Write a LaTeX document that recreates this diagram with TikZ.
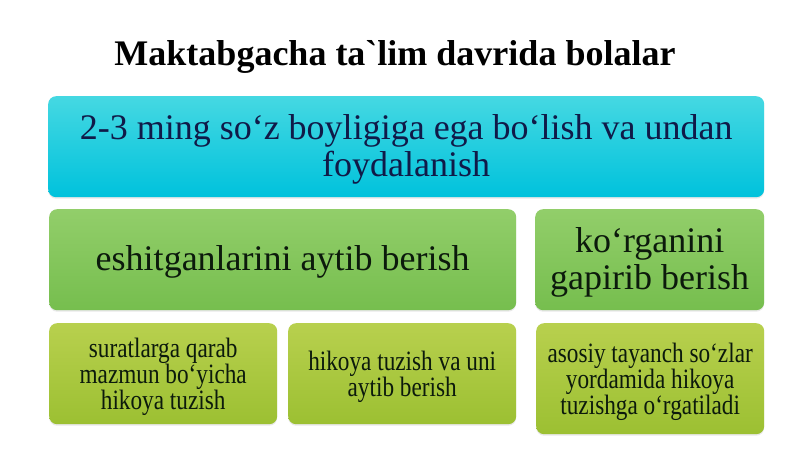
\documentclass[tikz,border=0pt]{standalone}
\usepackage{fontspec}
\setmainfont{Liberation Serif}
\newfontfamily\condfont[FakeStretch=0.83]{Liberation Serif}
\usetikzlibrary{shadows}
\definecolor{cyanT}{HTML}{45D8E2}
\definecolor{cyanB}{HTML}{00C2DC}
\definecolor{greenT}{HTML}{92CE6A}
\definecolor{greenB}{HTML}{76BE4E}
\definecolor{oliveT}{HTML}{B8D04E}
\definecolor{oliveB}{HTML}{9CC032}
\definecolor{navytxt}{HTML}{101A48}
\definecolor{greentxt}{HTML}{0C1A0C}
\tikzset{
  box/.style={rounded corners=8pt, anchor=north west, inner sep=0pt,
    drop shadow={shadow xshift=0pt, shadow yshift=-1.5pt, opacity=0.18}},
  cyanbox/.style={box, top color=cyanT, bottom color=cyanB},
  greenbox/.style={box, top color=greenT, bottom color=greenB},
  olivebox/.style={box, top color=oliveT, bottom color=oliveB},
  bigtxt/.style={align=center, inner sep=0pt, yshift=-2.5pt, font=\fontsize{36}{37.5}\selectfont},
  cyantxt/.style={bigtxt, text=navytxt},
  greentxt/.style={bigtxt, text=greentxt},
  smalltxt/.style={align=center, inner sep=0pt, yshift=-3.5pt, text=greentxt,
    font=\condfont\fontsize{28}{26}\selectfont},
}
\begin{document}
\begin{tikzpicture}[x=1pt,y=1pt]
\useasboundingbox[fill=white] (0,0) rectangle (800,-449);
\node[font=\bfseries\fontsize{36}{40}\selectfont, anchor=base] (title) at (395,-66) {Maktabgacha ta\textasciigrave lim davrida bolalar};
\node[cyanbox, minimum width=716pt, minimum height=101pt] (top) at (48,-96) {};
\node[cyantxt] (toptxt) at (top.center) {2-3 ming so‘z boyligiga ega bo‘lish va undan\\foydalanish};
\node[greenbox, minimum width=467pt, minimum height=101pt] (midL) at (49,-209) {};
\node[greentxt] (midLtxt) at (midL.center) {eshitganlarini aytib berish};
\node[greenbox, minimum width=229pt, minimum height=101pt] (midR) at (535,-209) {};
\node[greentxt] (midRtxt) at (midR.center) {ko‘rganini\\gapirib berish};
\node[olivebox, minimum width=228pt, minimum height=101pt] (b1) at (49,-323) {};
\node[smalltxt] (b1txt) at (b1.center) {suratlarga qarab\\mazmun bo‘yicha\\hikoya tuzish};
\node[olivebox, minimum width=228pt, minimum height=101pt] (b2) at (288,-323) {};
\node[smalltxt] (b2txt) at (b2.center) {hikoya tuzish va uni\\aytib berish};
\node[olivebox, minimum width=228pt, minimum height=111pt] (b3) at (536,-323) {};
\node[smalltxt] (b3txt) at (b3.center) {asosiy tayanch so‘zlar\\yordamida hikoya\\tuzishga o‘rgatiladi};
\end{tikzpicture}
\end{document}
